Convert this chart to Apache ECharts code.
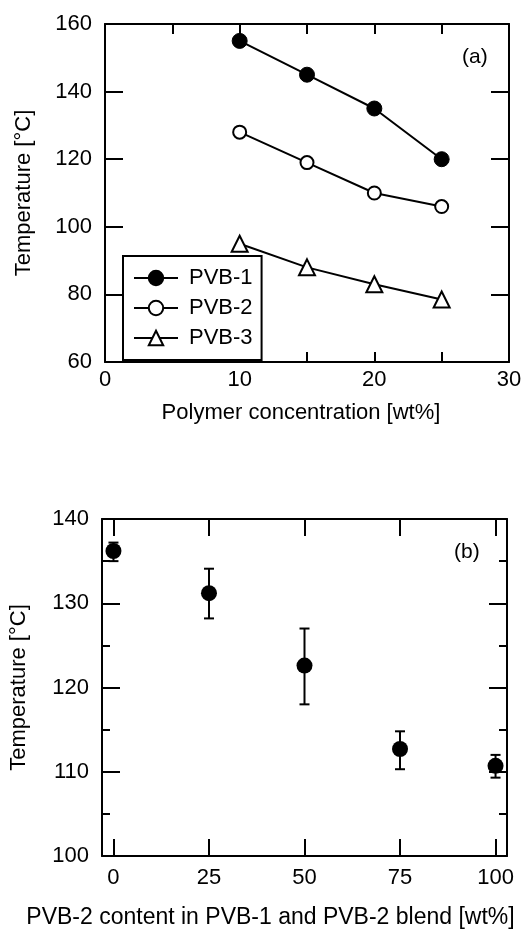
<!DOCTYPE html>
<html>
<head>
<meta charset="utf-8">
<script src="https://cdn.jsdelivr.net/npm/echarts@6/dist/echarts.min.js"></script>
<style>
  html, body { margin: 0; padding: 0; background: #fff; }
  #chart { width: 521px; height: 932px; }
</style>
</head>
<body>
<div id="chart"></div>
<script>
// (a) transition temperature vs polymer concentration
const concentration = [10, 15, 20, 25];
const pvb1 = [155, 145, 135, 120];
const pvb2 = [128, 119, 110, 106];
const pvb3 = [95, 88, 83, 78.5];

// (b) blend series with error bars
const blendContent = [0, 25, 50, 75, 100];
const blendTemp = [136.2, 131.2, 122.6, 112.7, 110.7];
const blendLow = [135.0, 128.2, 118.0, 110.3, 109.3];
const blendHigh = [137.2, 134.1, 127.0, 114.8, 112.0];

const FONT = 'Liberation Sans, Arial, sans-serif';
const black = '#000';

const axisLine = { show: true, onZero: false, lineStyle: { color: black, width: 2 } };
const label = { color: black, fontSize: 22, fontFamily: FONT };
const nameStyle = { color: black, fontSize: 22, fontFamily: FONT };

const chart = echarts.init(document.getElementById('chart'));

const pairs = (xs, ys) => xs.map((x, i) => [x, ys[i]]);

const option = {
  backgroundColor: '#fff',
  animation: false,
  title: [
    { text: '(a)', left: 457, top: 42, textStyle: { ...label, fontSize: 21, fontWeight: 'normal' } },
    { text: '(b)', left: 449, top: 537, textStyle: { ...label, fontSize: 21, fontWeight: 'normal' } }
  ],
  grid: [
    { left: 105, top: 24, width: 404, height: 338, outerBoundsMode: 'none' },
    { left: 102, top: 519, width: 405, height: 337, outerBoundsMode: 'none' }
  ],
  xAxis: [
    {
      type: 'value', gridIndex: 0, min: 0, max: 30, interval: 5,
      axisLine, splitLine: { show: false },
      axisTick: { inside: true, length: 10, lineStyle: { color: black, width: 2 } },
      axisLabel: { ...label, margin: 7, formatter: v => (v % 10 === 0 ? String(v) : '') },
      name: 'Polymer concentration [wt%]', nameLocation: 'middle', nameGap: 40,
      nameTextStyle: { ...nameStyle, padding: [0, 12, 0, 0] }
    },
    {
      type: 'value', gridIndex: 0, position: 'top', min: 0, max: 30, interval: 5,
      axisLine, splitLine: { show: false },
      axisTick: { inside: true, length: 10, lineStyle: { color: black, width: 2 } },
      axisLabel: { show: false }
    },
    {
      type: 'value', gridIndex: 1, min: -3, max: 103,
      axisLine, splitLine: { show: false },
      axisTick: { inside: true, length: 17, customValues: blendContent, lineStyle: { color: black, width: 2 } },
      axisLabel: { ...label, margin: 11, customValues: blendContent },
      name: 'PVB-2 content in PVB-1 and PVB-2 blend [wt%]', nameLocation: 'middle', nameGap: 50,
      nameTextStyle: { ...nameStyle, fontSize: 23, padding: [0, 68, 0, 0] }
    },
    {
      type: 'value', gridIndex: 1, position: 'top', min: -3, max: 103,
      axisLine, splitLine: { show: false },
      axisTick: { inside: true, length: 17, customValues: blendContent, lineStyle: { color: black, width: 2 } },
      axisLabel: { show: false }
    }
  ],
  yAxis: [
    {
      type: 'value', gridIndex: 0, min: 60, max: 160, interval: 20,
      axisLine, splitLine: { show: false },
      axisTick: { inside: true, length: 18, lineStyle: { color: black, width: 2 } },
      axisLabel: { ...label, margin: 13 },
      name: 'Temperature [°C]', nameLocation: 'middle', nameGap: 70,
      nameTextStyle: nameStyle
    },
    {
      type: 'value', gridIndex: 0, position: 'right', min: 60, max: 160, interval: 20,
      axisLine, splitLine: { show: false },
      axisTick: { inside: true, length: 18, lineStyle: { color: black, width: 2 } },
      axisLabel: { show: false }
    },
    {
      type: 'value', gridIndex: 1, min: 100, max: 140, interval: 10,
      axisLine, splitLine: { show: false },
      axisTick: { inside: true, length: 18, lineStyle: { color: black, width: 2 } },
      minorTick: { show: true, splitNumber: 2, length: 8, lineStyle: { color: black, width: 2 } },
      axisLabel: { ...label, margin: 13 },
      name: 'Temperature [°C]', nameLocation: 'middle', nameGap: 72,
      nameTextStyle: nameStyle
    },
    {
      type: 'value', gridIndex: 1, position: 'right', min: 100, max: 140, interval: 10,
      axisLine, splitLine: { show: false },
      axisTick: { inside: true, length: 18, lineStyle: { color: black, width: 2 } },
      minorTick: { show: true, splitNumber: 2, length: 8, lineStyle: { color: black, width: 2 } },
      axisLabel: { show: false }
    }
  ],
  legend: {
    orient: 'vertical',
    left: 123, top: 256,
    padding: [11, 9, 11, 10],
    itemWidth: 44, itemHeight: 18, itemGap: 8,
    borderColor: black, borderWidth: 2, borderRadius: 0,
    backgroundColor: '#fff',
    textStyle: { ...label, lineHeight: 20, padding: [0, 0, 0, 6] },
    data: ['PVB-1', 'PVB-2', 'PVB-3']
  },
  series: [
    {
      name: 'PVB-1', type: 'line', xAxisIndex: 0, yAxisIndex: 0,
      data: pairs(concentration, pvb1),
      symbol: 'circle', symbolSize: 15,
      lineStyle: { color: black, width: 2 },
      itemStyle: { color: black, borderColor: black, borderWidth: 1 }
    },
    {
      name: 'PVB-2', type: 'line', xAxisIndex: 0, yAxisIndex: 0,
      data: pairs(concentration, pvb2),
      symbol: 'circle', symbolSize: 13,
      lineStyle: { color: black, width: 2 },
      itemStyle: { color: '#fff', borderColor: black, borderWidth: 2 }
    },
    {
      name: 'PVB-3', type: 'line', xAxisIndex: 0, yAxisIndex: 0,
      data: pairs(concentration, pvb3),
      symbol: 'triangle', symbolSize: 16,
      lineStyle: { color: black, width: 2 },
      itemStyle: { color: '#fff', borderColor: black, borderWidth: 2 }
    },
    {
      name: 'error', type: 'custom', xAxisIndex: 2, yAxisIndex: 2,
      data: blendContent.map((x, i) => [x, blendLow[i], blendHigh[i]]),
      renderItem: (params, api) => {
        const lo = api.coord([api.value(0), api.value(1)]);
        const hi = api.coord([api.value(0), api.value(2)]);
        const cap = 5;
        const style = { stroke: black, lineWidth: 2 };
        return {
          type: 'group',
          children: [
            { type: 'line', shape: { x1: lo[0], y1: lo[1], x2: hi[0], y2: hi[1] }, style },
            { type: 'line', shape: { x1: lo[0] - cap, y1: lo[1], x2: lo[0] + cap, y2: lo[1] }, style },
            { type: 'line', shape: { x1: hi[0] - cap, y1: hi[1], x2: hi[0] + cap, y2: hi[1] }, style }
          ]
        };
      },
      z: 2
    },
    {
      name: 'blend', type: 'scatter', xAxisIndex: 2, yAxisIndex: 2,
      data: pairs(blendContent, blendTemp),
      symbol: 'circle', symbolSize: 16,
      itemStyle: { color: black, opacity: 1 },
      z: 3
    }
  ]
};

chart.setOption(option);
</script>
</body>
</html>
